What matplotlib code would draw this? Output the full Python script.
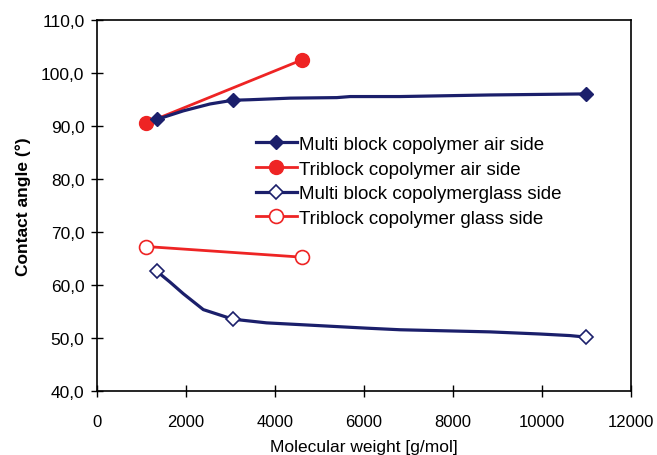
import matplotlib
matplotlib.use("Agg")
import matplotlib.pyplot as plt
from matplotlib.ticker import FuncFormatter, MultipleLocator

plt.rcParams['font.family'] = ['Liberation Sans', 'DejaVu Sans']

multi_air_x = [1350, 1940, 2540, 3050, 3440, 4340, 5390, 5690, 6810, 8830, 11000]
multi_air_y = [91.2, 92.8, 94.1, 94.8, 94.9, 95.2, 95.3, 95.5, 95.5, 95.8, 96.0]
multi_air_marks = [0, 3, 10]

# Triblock copolymer, air side
tri_air_x = [1110, 4600]
tri_air_y = [90.5, 102.4]

# Multi block copolymer, glass side
multi_glass_x = [1350, 1640, 1940, 2390, 3050, 3810, 4940, 6060, 6810, 8830, 9950, 10630, 11000]
multi_glass_y = [62.5, 60.5, 58.3, 55.3, 53.5, 52.8, 52.3, 51.8, 51.5, 51.1, 50.7, 50.4, 50.1]
multi_glass_marks = [0, 4, 12]

# Triblock copolymer, glass side
tri_glass_x = [1110, 4600]
tri_glass_y = [67.2, 65.2]

navy = '#1b1f6b'
red = '#ee2424'

fig = plt.figure(figsize=(6.57, 4.56), dpi=100)
ax = fig.add_axes([0.1476, 0.141, 0.8128, 0.8136])

ax.plot(multi_air_x, multi_air_y, color=navy, lw=2.3, marker='D', ms=7,
        markevery=multi_air_marks, mfc=navy, mec=navy,
        label='Multi block copolymer air side', zorder=3)
ax.plot(tri_air_x, tri_air_y, color=red, lw=2.0, marker='o', ms=10,
        mfc=red, mec=red, label='Triblock copolymer air side', zorder=2)
ax.plot(multi_glass_x, multi_glass_y, color=navy, lw=2.3, marker='D', ms=7,
        markevery=multi_glass_marks, mfc='white', mec=navy, mew=1.2,
        label='Multi block copolymerglass side', zorder=3)
ax.plot(tri_glass_x, tri_glass_y, color=red, lw=2.0, marker='o', ms=10,
        mfc='white', mec=red, mew=1.2, label='Triblock copolymer glass side', zorder=2)

ax.set_xlim(0, 12000)
ax.set_ylim(40, 110)
ax.xaxis.set_major_locator(MultipleLocator(2000))
ax.yaxis.set_major_locator(MultipleLocator(10))
ax.yaxis.set_major_formatter(FuncFormatter(lambda v, p: f"{v:.1f}".replace('.', ',')))
ax.tick_params(direction='inout', length=8, width=1, labelsize=12, colors='black')
ax.tick_params(axis='x', pad=13)
ax.tick_params(axis='y', labelsize=12.5, pad=5)
for s in ax.spines.values():
    s.set_linewidth(1.2)

ax.set_xlabel('Molecular weight [g/mol]', fontsize=12.5, labelpad=7)
ax.set_ylabel('Contact angle (°)', fontsize=12.5, fontweight='bold', labelpad=7)

ax.legend(loc='upper left', bbox_to_anchor=(0.297, 0.687), frameon=False,
          fontsize=13.5, borderpad=0, handlelength=2.2, handletextpad=0.1,
          labelspacing=0.4, borderaxespad=0)

fig.savefig('out.png', dpi=100)
